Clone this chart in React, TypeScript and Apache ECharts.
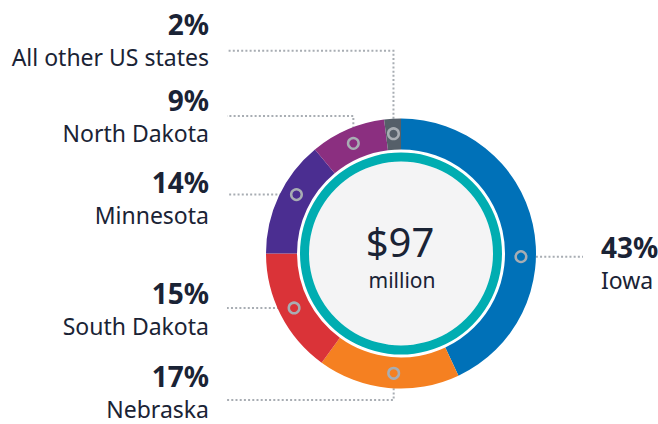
import React, { useEffect, useRef } from 'react';
import * as echarts from 'echarts';

// ---- data ----
const categories = ['Iowa', 'Nebraska', 'South Dakota', 'Minnesota', 'North Dakota', 'All other US states'];
const shares = [43, 17, 15, 14, 9, 2];
const colors = ['#0071b8', '#f58021', '#da3338', '#4b2e91', '#8b2f80', '#555f69'];
const totalAmount = '$97';
const totalUnit = 'million';

// ---- label layout (px) ----
const labelSide = ['right', 'left', 'left', 'left', 'left', 'left'];
const labelCenterY = [259, 387.5, 305, 194, 112, 36];
const lineY: (number | null)[] = [null, 400, null, null, 116, 50.7];
const anchorAngle: (number | null)[] = [-1.5, -93.5, null, 150.6, null, null];

const CX = 401;
const CY = 253.5;
const R_OUT = 135;
const R_IN = 104;
const MARK_R = 120;
const LEFT_TEXT_X = 209;
const LEFT_LINE_X = 227;
const RIGHT_TEXT_X = 601;
const RIGHT_LINE_X = 583;
const TEXT = '#1a2335';
const GREY = '#a8adb3';
const FONT = 'Noto Sans';

const total = shares.reduce((a, b) => a + b, 0);
let cum = 0;
const markers = shares.map((v, i) => {
  const mid = 90 - ((cum + v / 2) / total) * 360;
  cum += v;
  const ang = anchorAngle[i] ?? mid;
  const rad = (ang * Math.PI) / 180;
  return [CX + MARK_R * Math.cos(rad), CY - MARK_R * Math.sin(rad)];
});

function linePoints(i: number) {
  const [mx, my] = markers[i];
  const ly = lineY[i] ?? my;
  const endX = labelSide[i] === 'left' ? LEFT_LINE_X : RIGHT_LINE_X;
  if (Math.abs(ly - my) < 1) {
    const dir = endX < mx ? -1 : 1;
    return [[mx + dir * 6.5, my], [mx + dir * 6.5, my], [endX, my]];
  }
  const dir = ly < my ? -1 : 1;
  return [[mx, my + dir * 6.5], [mx, ly], [endX, ly]];
}

export default function App() {
  const ref = useRef<HTMLDivElement>(null);
  useEffect(() => {
    if (!ref.current) return;
    const chart = echarts.init(ref.current, null, { renderer: 'svg' });
    const option: any = {
      animation: false,
      backgroundColor: '#ffffff',
      series: [
        {
          type: 'pie',
          center: [CX, CY],
          radius: [0, 92],
          silent: true,
          label: { show: false },
          labelLine: { show: false },
          data: [{ value: 1, itemStyle: { color: '#f4f4f5' } }],
          z: 1,
        },
        {
          type: 'pie',
          center: [CX, CY],
          radius: [92, 101],
          silent: true,
          label: { show: false },
          labelLine: { show: false },
          data: [{ value: 1, itemStyle: { color: '#00adb1' } }],
          z: 1,
        },
        {
          type: 'pie',
          center: [CX, CY],
          radius: [R_IN, R_OUT],
          startAngle: 90,
          clockwise: true,
          avoidLabelOverlap: false,
          silent: true,
          itemStyle: { borderWidth: 0 },
          data: categories.map((n, i) => ({ name: n, value: shares[i], itemStyle: { color: colors[i] } })),
          label: {
            show: true,
            position: 'outer',
            formatter: (p: any) =>
              labelSide[p.dataIndex] === 'left'
                ? `{pr|${p.value}%}\n{nr|${p.name}}`
                : `{pl|${p.value}%}\n{nl|${p.name}}`,
            rich: {
              pr: { fontFamily: FONT, fontWeight: 'bold', fontSize: 28, color: TEXT, lineHeight: 42, align: 'right' },
              nr: { fontFamily: FONT, fontSize: 23, color: TEXT, lineHeight: 24, align: 'right' },
              pl: { fontFamily: FONT, fontWeight: 'bold', fontSize: 28, color: TEXT, lineHeight: 42, align: 'left' },
              nl: { fontFamily: FONT, fontSize: 23, color: TEXT, lineHeight: 24, align: 'left' },
            },
          },
          labelLine: {
            show: true,
            lineStyle: { color: GREY, width: 2, type: [2, 2.2] },
          },
          labelLayout: (params: any) => {
            const i = params.dataIndex;
            const left = labelSide[i] === 'left';
            return {
              x: left ? LEFT_TEXT_X : RIGHT_TEXT_X,
              y: labelCenterY[i],
              align: left ? 'right' : 'left',
              verticalAlign: 'middle',
              labelLinePoints: linePoints(i),
            };
          },
          z: 2,
        },
      ],
      graphic: [
        ...markers.map(([x, y]) => ({
          type: 'circle',
          z: 100,
          silent: true,
          shape: { cx: x, cy: y, r: 5.3 },
          style: { fill: 'none', stroke: GREY, lineWidth: 2.5 },
        })),
        {
          type: 'text',
          z: 100,
          x: CX - 1,
          y: 241,
          style: { text: totalAmount, fontFamily: FONT, fontSize: 40, fill: TEXT, align: 'center', verticalAlign: 'middle' },
        },
        {
          type: 'text',
          z: 100,
          x: CX + 1,
          y: 280,
          style: { text: totalUnit, fontFamily: FONT, fontSize: 21, fill: TEXT, align: 'center', verticalAlign: 'middle' },
        },
      ],
    };
    chart.setOption(option);
    return () => chart.dispose();
  }, []);
  return (
    <div
      ref={ref}
      style={{ position: 'fixed', left: 0, top: 0, width: 658, height: 424, background: '#fff' }}
    />
  );
}
